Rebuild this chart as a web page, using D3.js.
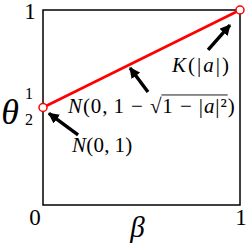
<!DOCTYPE html>
<html>
<head>
<meta charset="utf-8">
<script src="https://cdn.jsdelivr.net/npm/d3@7"></script>
<style>
  html, body { margin: 0; padding: 0; background: #fff; }
  svg { display: block; }
</style>
</head>
<body>
<div id="chart"></div>
<script>
// red segment: beta -> theta
const betas = [0, 1];
const thetas = [0.5, 1];

// axis ticks
const xTicks = [0, 1];
const yTicks = [1];

// arrows: [tailBeta, tailTheta] -> [headBeta, headTheta]
const arrowTails = [[0.178, 0.36], [0.533, 0.579], [0.838, 0.795]];
const arrowHeads = [[0.03, 0.47], [0.442, 0.703], [0.949, 0.923]];

// annotation labels, left/baseline in data coords
const labelPos = [[0.147, 0.27], [0.127, 0.472], [0.655, 0.682]];
const labelNames = ["N01", "Nsqrt", "K"];

const width = 246, height = 244;
const margin = { top: 10, right: 6, bottom: 39, left: 43 };

const x = d3.scaleLinear().domain([0, 1]).range([margin.left, width - margin.right]);
const y = d3.scaleLinear().domain([0, 1]).range([height - margin.bottom, margin.top]);

const svg = d3.select("#chart").append("svg")
    .attr("width", width)
    .attr("height", height)
    .style("font-family", "'Liberation Serif', 'DejaVu Serif', serif");

// frame
svg.append("rect")
    .attr("x", x(0))
    .attr("y", y(1))
    .attr("width", x(1) - x(0))
    .attr("height", y(0) - y(1))
    .attr("fill", "none")
    .attr("stroke", "#000")
    .attr("stroke-width", 1.5);

// tick labels
svg.append("g").selectAll("text")
    .data(xTicks)
    .join("text")
    .attr("x", d => x(d) + (d === 0 ? -8 : 1))
    .attr("y", y(0) + 20)
    .attr("text-anchor", "middle")
    .attr("font-size", 23)
    .text(d => d);

svg.append("g").selectAll("text")
    .data(yTicks)
    .join("text")
    .attr("x", x(0) - 13)
    .attr("y", d => y(d) + 9)
    .attr("text-anchor", "middle")
    .attr("font-size", 23)
    .text(d => d);

// 1/2 fraction tick (bar hidden as in the source)
const half = svg.append("g").attr("transform", `translate(${x(0) - 14},${y(0.5)})`);
half.append("text").attr("y", -9).attr("text-anchor", "middle").attr("font-size", 16).text("1");
half.append("text").attr("y", 17).attr("text-anchor", "middle").attr("font-size", 16).text("2");

// axis titles
svg.append("text")
    .attr("x", (x(0) + x(1)) / 2 - 4)
    .attr("y", height - 7)
    .attr("text-anchor", "middle")
    .attr("font-size", 29)
    .attr("font-style", "italic")
    .text("β");

svg.append("text")
    .attr("x", 10)
    .attr("y", y(0.5) + 16)
    .attr("text-anchor", "middle")
    .attr("font-size", 36)
    .attr("font-style", "italic")
    .text("θ");

// arrow marker
svg.append("defs").append("marker")
    .attr("id", "head")
    .attr("viewBox", "0 0 10 10")
    .attr("refX", 9)
    .attr("refY", 5)
    .attr("markerWidth", 3.2)
    .attr("markerHeight", 3.2)
    .attr("markerUnits", "strokeWidth")
    .attr("orient", "auto")
    .append("path")
    .attr("d", "M0,0 L10,5 L0,10 z")
    .attr("fill", "#000");

svg.append("g").selectAll("line")
    .data(arrowTails)
    .join("line")
    .attr("x1", d => x(d[0]))
    .attr("y1", d => y(d[1]))
    .attr("x2", (d, i) => x(arrowHeads[i][0]))
    .attr("y2", (d, i) => y(arrowHeads[i][1]))
    .attr("stroke", "#000")
    .attr("stroke-width", 3.4)
    .attr("marker-end", "url(#head)");

// red line
const line = d3.line().x(d => x(d[0])).y(d => y(d[1]));
const pts = betas.map((b, i) => [b, thetas[i]]);
svg.append("path")
    .datum(pts)
    .attr("d", line)
    .attr("fill", "none")
    .attr("stroke", "#ff0000")
    .attr("stroke-width", 2.6);

svg.append("g").selectAll("circle")
    .data(pts)
    .join("circle")
    .attr("cx", d => x(d[0]))
    .attr("cy", d => y(d[1]))
    .attr("r", 4)
    .attr("fill", "#fff")
    .attr("stroke", "#ff0000")
    .attr("stroke-width", 1.5);

// annotations
const fs = 21;
labelNames.forEach((name, i) => {
    const t = svg.append("text")
        .attr("x", x(labelPos[i][0]))
        .attr("y", y(labelPos[i][1]))
        .attr("font-size", fs);
    if (name === "N01") {
        t.attr("letter-spacing", 0.3);
        t.append("tspan").attr("font-style", "italic").text("N");
        t.append("tspan").text("(0,\u20091)");
    } else if (name === "K") {
        t.attr("letter-spacing", 2);
        t.append("tspan").attr("font-style", "italic").text("K");
        t.append("tspan").text("(|");
        t.append("tspan").attr("font-style", "italic").text("a");
        t.append("tspan").text("|)");
    } else {
        t.attr("letter-spacing", 0.9);
        t.append("tspan").attr("font-style", "italic").text("N");
        t.append("tspan").text("(0,\u20091 − √");
        t.append("tspan").text("1 − |");
        t.append("tspan").attr("font-style", "italic").text("a");
        t.append("tspan").text("|²");
        t.append("tspan").text(")");
        // vinculum over the radicand
        const full = t.text();
        const start = full.indexOf("√") + 1;
        const end = full.indexOf("²");
        const node = t.node();
        const x0 = node.getStartPositionOfChar(start).x;
        const e = node.getExtentOfChar(end);
        const x1 = e.x + e.width;
        const top = node.getExtentOfChar(start - 1).y + 1;
        svg.append("line")
            .attr("x1", x0 - 1).attr("x2", x1)
            .attr("y1", top).attr("y2", top)
            .attr("stroke", "#000").attr("stroke-width", 0.9);
    }
});
</script>
</body>
</html>
